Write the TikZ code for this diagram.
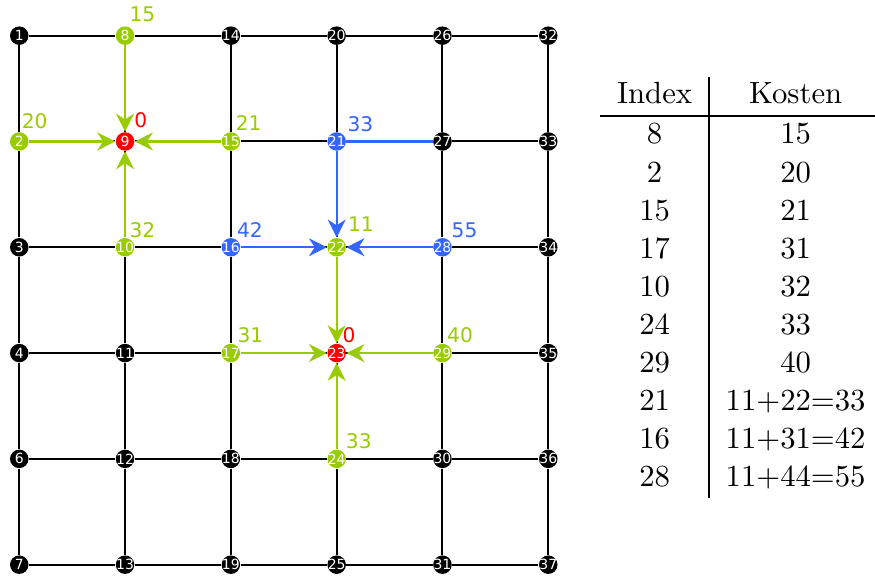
\documentclass[tikz,border=0pt]{standalone}
\usepackage{fontspec}
\newfontfamily\knotfont{DejaVu Sans}
\usepackage{xcolor}
\usetikzlibrary{arrows.meta,calc}
\definecolor{kgreen}{RGB}{153,204,0}
\definecolor{kblue}{RGB}{51,102,255}
\definecolor{kred}{RGB}{255,0,0}
\tikzset{
  col2/.style={fill=kgreen},col8/.style={fill=kgreen},col10/.style={fill=kgreen},
  col15/.style={fill=kgreen},col17/.style={fill=kgreen},col22/.style={fill=kgreen},
  col24/.style={fill=kgreen},col29/.style={fill=kgreen},
  col16/.style={fill=kblue},col21/.style={fill=kblue},col28/.style={fill=kblue},
  col9/.style={fill=kred},col23/.style={fill=kred}}

\begin{document}
\begin{tikzpicture}[x=1.327cm,y=1.327cm,
  knot/.style={circle,fill=black,inner sep=0pt,minimum size=6.6pt},
  knotnum/.style={text=white,inner sep=0pt,font=\knotfont\fontsize{5}{5}\selectfont},
  cost/.style={anchor=south west,inner sep=0pt,font=\knotfont\fontsize{7.2}{8}\selectfont},
  edge/.style={line width=0.7pt},
  tree/.style={line width=0.8pt,-{Stealth[length=6.4pt,width=6.4pt]}}]
\useasboundingbox (-0.182,-5.107) rectangle (8.088,0.337);

% Knoten spaltenweise
\foreach \col [count=\i from 0] in {{1,2,3,4,6,7},{8,9,10,11,12,13},{14,15,16,17,18,19},{20,21,22,23,24,25},{26,27,28,29,30,31},{32,33,34,35,36,37}}
  \foreach \n [count=\j from 0] in \col
    \node[knot,col\n/.try,alias=v\n,label={[knotnum]center:\n}] (p\i-\j) at (\i,-\j) {};

% Gitter
\foreach \i in {0,...,5} {
  \foreach \j [evaluate=\j as \k using int(\j+1)] in {0,...,4} {
    \draw[edge] (p\i-\j) -- (p\i-\k);
    \draw[edge] (p\j-\i) -- (p\k-\i);
  }
}

% Vorgaenger
\foreach \a/\b in {8/9,2/9,15/9,10/9,22/23,17/23,29/23,24/23}
  \draw[tree,kgreen] (v\a) -- (v\b);
\foreach \a/\b in {21/22,16/22,28/22}
  \draw[tree,kblue] (v\a) -- (v\b);
\draw[edge,line width=0.8pt,kblue] (v21) -- (v27);

% Kosten
\foreach \n/\v/\c/\dx/\dy in {8/15/kgreen/1.4/4.7,2/20/kgreen/0.7/4.4,9/0/kred/3.1/4.6,
    15/21/kgreen/1.6/3.8,10/32/kgreen/1.4/3.3,21/33/kblue/3.7/3.2,16/42/kblue/2.0/3.3,
    22/11/kgreen/3.9/5.3,28/55/kblue/3.1/3.3,17/31/kgreen/2.2/3.5,23/0/kred/1.9/3.5,
    29/40/kgreen/1.5/3.5,24/33/kgreen/3.1/3.5}
  \node[cost,text=\c] (k\n) at ([shift={(\dx pt,\dy pt)}]v\n.center) {\v};

% Tabelle
\node[anchor=north west,inner sep=0pt,font=\fontsize{10.95}{13.6}\selectfont] (tab) at (5.486,-0.387) {%
  \setlength{\arrayrulewidth}{0.7pt}%
  \begin{tabular}{c|c}
    Index & Kosten \\ \hline
    8  & 15 \\
    2  & 20 \\
    15 & 21 \\
    17 & 31 \\
    10 & 32 \\
    24 & 33 \\
    29 & 40 \\
    21 & 11+22=33 \\
    16 & 11+31=42 \\
    28 & 11+44=55
  \end{tabular}};
\end{tikzpicture}
\end{document}
